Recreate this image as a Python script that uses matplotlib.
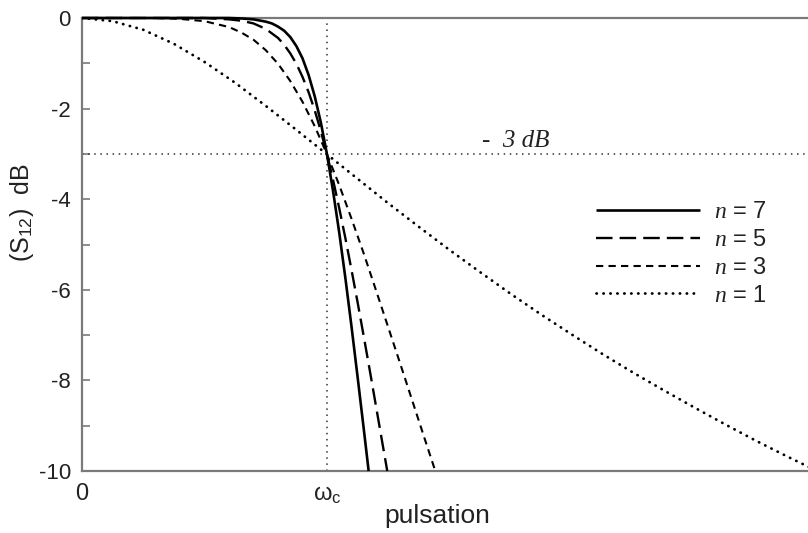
import matplotlib
matplotlib.use("Agg")
import matplotlib.pyplot as plt

# normalised pulsation (w / wc) and attenuation in dB
w_n1 = [0, 0.125, 0.25, 0.375, 0.5, 0.625, 0.75, 0.875, 1.0, 1.125, 1.25, 1.375, 1.5,
        1.625, 1.75, 1.875, 2.0, 2.125, 2.25, 2.375, 2.5, 2.625, 2.75, 2.875, 3.0]
db_n1 = [0, -0.07, -0.26, -0.57, -0.97, -1.43, -1.94, -2.47, -3.01, -3.55, -4.09, -4.61, -5.12,
         -5.61, -6.09, -6.55, -6.99, -7.42, -7.83, -8.22, -8.60, -8.97, -9.33, -9.67, -10.0]

w_n3 = [0, 0.2, 0.3, 0.4, 0.5, 0.6, 0.65, 0.7, 0.75, 0.8, 0.85, 0.9, 0.95, 1.0, 1.05, 1.1, 1.15,
        1.2, 1.25, 1.3, 1.35, 1.4, 1.442]
db_n3 = [0, 0.0, 0.0, -0.02, -0.07, -0.20, -0.32, -0.48, -0.71, -1.01, -1.39, -1.85, -2.39, -3.01,
         -3.69, -4.43, -5.20, -6.01, -6.83, -7.65, -8.48, -9.31, -10.0]

w_n5 = [0, 0.5, 0.6, 0.65, 0.7, 0.75, 0.8, 0.825, 0.85, 0.875, 0.9, 0.925, 0.95, 0.975, 1.0,
        1.025, 1.05, 1.075, 1.1, 1.125, 1.15, 1.175, 1.2, 1.225, 1.246]
db_n5 = [0, 0.0, -0.03, -0.06, -0.12, -0.24, -0.44, -0.59, -0.78, -1.01, -1.30, -1.64, -2.04, -2.50,
         -3.01, -3.58, -4.20, -4.86, -5.56, -6.28, -7.03, -7.79, -8.57, -9.35, -10.0]

w_n7 = [0, 0.6, 0.65, 0.7, 0.75, 0.775, 0.8, 0.825, 0.85, 0.875, 0.9, 0.925, 0.95, 0.975, 1.0,
        1.025, 1.05, 1.075, 1.1, 1.125, 1.15, 1.17]
db_n7 = [0, 0.0, -0.01, -0.03, -0.08, -0.12, -0.19, -0.28, -0.42, -0.62, -0.89, -1.26, -1.73, -2.31,
         -3.01, -3.83, -4.74, -5.74, -6.81, -7.93, -9.07, -10.0]

w_cut = 1.0
db_cut = -3
y_ticks = [0, -2, -4, -6, -8, -10]

plt.rcParams['font.family'] = ['Liberation Sans', 'DejaVu Sans']
plt.rcParams['mathtext.fontset'] = 'custom'
plt.rcParams['mathtext.rm'] = 'Liberation Sans'
plt.rcParams['mathtext.it'] = 'Liberation Serif:italic'

txt = '#222222'
spine_c = '#7a7a7a'

fig = plt.figure(figsize=(8.08, 5.33), dpi=100)
ax = fig.add_axes([82/808, 1 - 471/533, 1 - 82/808, (471 - 18)/533])

ax.plot(w_n7, db_n7, color='black', lw=1.9, solid_capstyle='butt', label=r'$n$ = 7', clip_on=False, zorder=5)
ax.plot(w_n5, db_n5, color='black', lw=1.7, linestyle=(0, (7, 3)), label=r'$n$ = 5', clip_on=False, zorder=4)
ax.plot(w_n3, db_n3, color='black', lw=1.5, linestyle=(0, (3.5, 2.5)), label=r'$n$ = 3', clip_on=False, zorder=3)
ax.plot(w_n1, db_n1, color='black', lw=2.0, linestyle=(0, (0.1, 2.4)), dash_capstyle='round',
        label=r'$n$ = 1', zorder=3)

# -3 dB and cutoff reference lines
ax.axhline(db_cut, color='#333333', lw=1.1, linestyle=(0, (1, 3)), zorder=2)
ax.axvline(w_cut, color='#333333', lw=1.1, linestyle=(0, (1, 3)), zorder=2)
ax.text(1.77, db_cut + 0.05, '-  3 dB', family='Liberation Serif', style='italic',
        fontsize=18, color=txt, ha='center', va='bottom')

ax.set_xlim(0, 726/245)
ax.set_ylim(-10, 0)
ax.set_yticks(y_ticks)
ax.set_yticklabels([str(t) for t in y_ticks])
ax.set_yticks([-1, -3, -5, -7, -9], minor=True)
ax.set_xticks([0, w_cut])
ax.set_xticklabels(['0', r'ω$_{\mathrm{c}}$'])
ax.tick_params(axis='y', which='both', direction='in', length=6, width=1.2, color=spine_c,
               labelsize=16, labelcolor=txt, pad=8)
ax.tick_params(axis='x', length=0, labelsize=17, labelcolor=txt, pad=9)

for s in ['left', 'bottom', 'top']:
    ax.spines[s].set_color(spine_c)
    ax.spines[s].set_linewidth(1.6)
ax.spines['right'].set_visible(False)

ax.set_xlabel('pulsation', fontsize=19, color=txt)
ax.xaxis.set_label_coords((437 - 82)/726, -(504 - 471)/453)
ax.set_ylabel(r'(S$_{12}$)  dB', fontsize=18, color=txt)
ax.yaxis.set_label_coords((36 - 82)/726, (471 - 213)/453)

leg = ax.legend(loc='upper left', bbox_to_anchor=(596/808, 1 - 201/533), bbox_transform=fig.transFigure,
                frameon=False, borderpad=0, borderaxespad=0, handlelength=4.4, handletextpad=0.6,
                labelspacing=0.25, fontsize=17)
for t in leg.get_texts():
    t.set_color(txt)

fig.savefig('out.png', dpi=100)
